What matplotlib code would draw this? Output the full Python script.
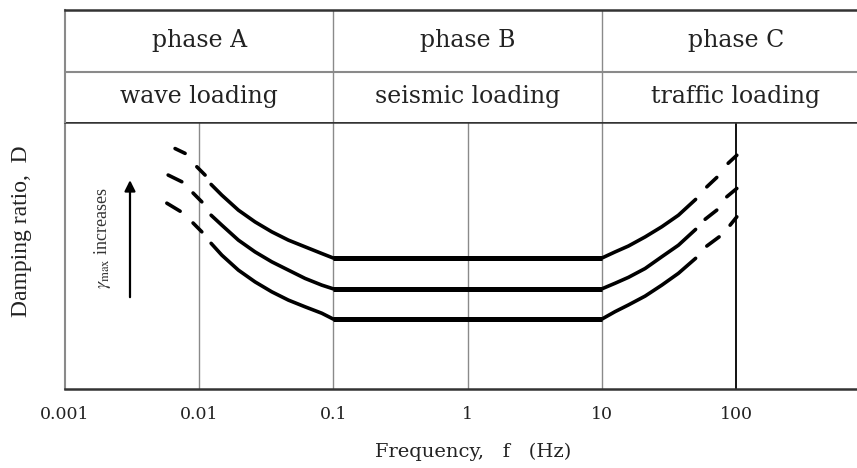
import matplotlib
matplotlib.use("Agg")
import matplotlib.pyplot as plt

# ---------------- data ----------------
tick_freqs = [0.001, 0.01, 0.1, 1, 10, 100]
tick_labels = ["0.001", "0.01", "0.1", "1", "10", "100"]

phase_names = ["phase A", "phase B", "phase C"]
phase_loads = ["wave loading", "seismic loading", "traffic loading"]
phase_centers = [0.01, 1, 100]
phase_bounds = [0.1, 10]

freq_left = [0.01227, 0.01474, 0.01959, 0.02609, 0.03475, 0.04621, 0.06152, 0.08196, 0.1]
D_left_top = [0.765, 0.725, 0.669, 0.625, 0.588, 0.557, 0.532, 0.507, 0.49]
D_left_mid = [0.650, 0.613, 0.557, 0.513, 0.476, 0.445, 0.414, 0.389, 0.375]
D_left_bot = [0.545, 0.501, 0.445, 0.401, 0.364, 0.333, 0.308, 0.284, 0.262]

freq_flat = [0.1, 10]
D_flat = [0.49, 0.375, 0.262]

freq_right = [10, 12.56, 15.79, 21.02, 28.0, 37.22, 50.0]
D_right_top = [0.49, 0.513, 0.535, 0.569, 0.607, 0.650, 0.709]
D_right_mid = [0.375, 0.396, 0.418, 0.451, 0.495, 0.538, 0.597]
D_right_bot = [0.262, 0.290, 0.315, 0.348, 0.389, 0.433, 0.489]

# dashed extensions: each dash as [f_start, f_end], [D_start, D_end]
dash_left_f = [[[0.00661, 0.00785], [0.0096, 0.01106]],
               [[0.00587, 0.00742], [0.0090, 0.01046]],
               [[0.00574, 0.00721], [0.0090, 0.01046]]]
dash_left_D = [[[0.899, 0.881], [0.831, 0.800]],
               [[0.800, 0.775], [0.733, 0.700]],
               [[0.695, 0.665], [0.621, 0.588]]]
dash_right_f = [[[60.6, 71.9], [87.4, 101.4]],
                [[58.9, 71.9], [85.4, 101.4]],
                [[60.6, 74.8], [90.4, 101.4]]]
dash_right_D = [[[0.756, 0.791], [0.844, 0.874]],
                [[0.635, 0.669], [0.719, 0.750]],
                [[0.535, 0.569], [0.613, 0.644]]]

arrow_f = 0.00305
arrow_D = [0.344, 0.781]
note_f = 0.00189
note_D = 0.565

# ---------------- figure ----------------
plt.rcParams['mathtext.fontset'] = 'stix'
W, H = 857, 468
fig = plt.figure(figsize=(W / 100, H / 100), dpi=100)

x0, x1 = 65 / W, 1.0
y_bot = (H - 389.3) / H
y_mid = (H - 121.5) / H
y_top = (H - 10) / H

ax = fig.add_axes([x0, y_bot, x1 - x0, y_mid - y_bot])
hx = fig.add_axes([x0, y_mid, x1 - x0, y_top - y_mid], sharex=ax)

xmax = 10 ** (-3 + 792 / 134.2)
ax.set_xscale('log')
ax.set_xlim(0.001, xmax)
ax.set_ylim(0, 1)

gray = '#8a8a8a'
dark = '#333333'

# vertical grid lines
for f in [0.01, 0.1, 1, 10]:
    ax.axvline(f, color=gray, lw=1.0, zorder=1)
ax.axvline(100, color='#111111', lw=1.4, zorder=1)

lw_c = 2.6
lw_f = 3.6
for D_l in [D_left_top, D_left_mid, D_left_bot]:
    ax.plot(freq_left, D_l, color='black', lw=lw_c, solid_capstyle='round',
            solid_joinstyle='round', zorder=3)
for D_f in D_flat:
    ax.plot(freq_flat, [D_f, D_f], color='black', lw=lw_f, solid_capstyle='butt', zorder=3)
for D_r in [D_right_top, D_right_mid, D_right_bot]:
    ax.plot(freq_right, D_r, color='black', lw=lw_c, solid_capstyle='round',
            solid_joinstyle='round', zorder=3)

for fl, Dl in zip(dash_left_f + dash_right_f, dash_left_D + dash_right_D):
    for fs, Ds in zip(fl, Dl):
        ax.plot(fs, Ds, color='black', lw=lw_c, solid_capstyle='round', zorder=3)

# arrow and note
ax.annotate('', xy=(arrow_f, arrow_D[1]), xytext=(arrow_f, arrow_D[0]),
            arrowprops=dict(arrowstyle='-|>', lw=1.6, color='black', mutation_scale=16,
                            shrinkA=0, shrinkB=0))
ax.text(note_f, note_D, r'$\gamma_{\mathrm{max}}$ increases', rotation=90,
        ha='center', va='center', fontsize=13, family='Liberation Serif', color='#333333')

# spines
ax.spines['right'].set_visible(False)
ax.spines['left'].set_color(gray)
ax.spines['left'].set_linewidth(1.5)
ax.spines['bottom'].set_color(dark)
ax.spines['bottom'].set_linewidth(1.8)
ax.spines['top'].set_color(dark)
ax.spines['top'].set_linewidth(1.8)

ax.set_yticks([])
ax.set_xticks(tick_freqs)
ax.set_xticklabels(tick_labels, family='DejaVu Serif', fontsize=12.5, color='#222222')
ax.xaxis.set_minor_locator(matplotlib.ticker.NullLocator())
ax.tick_params(axis='x', length=0, pad=12)

# header
hx.set_ylim(0, 1)
hx.spines['right'].set_visible(False)
hx.spines['bottom'].set_visible(False)
hx.spines['left'].set_color(gray)
hx.spines['left'].set_linewidth(1.5)
hx.spines['top'].set_color(dark)
hx.spines['top'].set_linewidth(1.8)
hx.tick_params(axis='both', which='both', length=0, labelbottom=False, labelleft=False)
hx.set_yticks([])
hx.axhline(0.444, color=gray, lw=1.5)
for f in phase_bounds:
    hx.axvline(f, color=gray, lw=1.0)
for c, n, l in zip(phase_centers, phase_names, phase_loads):
    hx.text(c, 0.722, n, ha='center', va='center', fontsize=17, family='DejaVu Serif', color='#222222')
    hx.text(c, 0.22, l, ha='center', va='center', fontsize=17, family='DejaVu Serif', color='#222222')

fig.text(22 / W, 1 - 231.5 / H, 'Damping ratio,  D', rotation=90, ha='center', va='center',
         fontsize=17, family='Liberation Serif', color='#222222')
fig.text(473 / W, 1 - 452 / H, 'Frequency,   f   (Hz)', ha='center', va='center',
         fontsize=14, family='DejaVu Serif', color='#222222')

fig.savefig('out.png', dpi=100)
